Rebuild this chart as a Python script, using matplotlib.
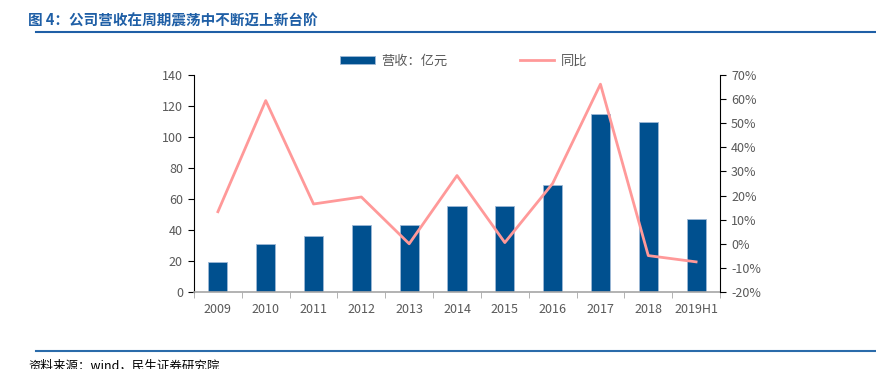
import matplotlib.pyplot as plt
from matplotlib.ticker import FuncFormatter

plt.rcParams['font.family'] = ['Noto Sans CJK SC', 'DejaVu Sans']

# --- datos ---
years = ["2009", "2010", "2011", "2012", "2013", "2014", "2015", "2016", "2017", "2018", "2019H1"]
revenue = [19.5, 31, 36, 43, 43, 55.5, 55.5, 69, 115, 110, 47]
yoy = [13.3, 59.4, 16.5, 19.4, 0.0, 28.3, 0.5, 25.0, 66.2, -4.9, -7.5]

BAR_C = '#00508F'
LINE_C = '#FF9999'
BLUE = '#1F5FA6'
GRAY = '#595959'

fig = plt.figure(figsize=(8.76, 3.69), dpi=100)

# titulo y lineas
fig.text(28 / 876, 1 - 21 / 369, "图 4：公司营收在周期震荡中不断迈上新台阶", fontsize=10.5,
         fontweight='bold', color=BLUE, va='center', ha='left')
fig.add_artist(plt.Line2D([36 / 876, 1], [1 - 32 / 369] * 2, color=BLUE, lw=1.5))
fig.add_artist(plt.Line2D([36 / 876, 1], [1 - 351 / 369] * 2, color='#2A6BAA', lw=1.5))
fig.text(28 / 876, 1 - 360 / 369, "资料来源：wind，民生证券研究院", fontsize=9, color='black',
         va='top', ha='left')

ax = fig.add_axes([194 / 876, 1 - 292 / 369, (720 - 194) / 876, (292 - 75) / 369])
x = list(range(len(years)))
bars = ax.bar(x, revenue, width=0.4, color=BAR_C, edgecolor='#9DB8D6', linewidth=0.6, zorder=2,
              label="营收：亿元")
ax.set_xlim(-0.5, len(years) - 0.5)
ax.set_ylim(0, 140)
ax.set_yticks(range(0, 141, 20))
ax.set_xticks(x)
ax.set_xticklabels(years)
ax.set_xticks([i + 0.5 for i in range(-1, len(years))], minor=True)
ax.tick_params(axis='x', which='major', length=0, pad=8, labelsize=9, labelcolor=GRAY)
ax.tick_params(axis='x', which='minor', length=4, color='#A6A6A6', direction='out')
ax.tick_params(axis='y', length=4, color='black', labelsize=9, labelcolor=GRAY, pad=4)
for s in ['top', 'right']:
    ax.spines[s].set_visible(False)
ax.spines['bottom'].set_color('#A6A6A6')
ax.spines['bottom'].set_linewidth(1.2)
ax.spines['left'].set_color('black')

ax2 = ax.twinx()
line, = ax2.plot(x, yoy, color=LINE_C, lw=2, zorder=3, label="同比")
ax2.set_ylim(-20, 70)
ax2.set_yticks(range(-20, 71, 10))
ax2.yaxis.set_major_formatter(FuncFormatter(lambda v, p: f"{int(v)}%"))
ax2.tick_params(axis='y', length=4, color='black', labelsize=9, labelcolor=GRAY, pad=4)
for s in ['top', 'left', 'bottom']:
    ax2.spines[s].set_visible(False)
ax2.spines['right'].set_color('black')

fig.legend([bars, line], ["营收：亿元", "同比"], loc='center', ncol=2, frameon=False,
           bbox_to_anchor=(464 / 876, 1 - 61 / 369), fontsize=9.5, labelcolor=GRAY,
           handlelength=2.6, handleheight=0.6, columnspacing=5.5, handletextpad=0.5)

fig.savefig("out.png", dpi=100)
